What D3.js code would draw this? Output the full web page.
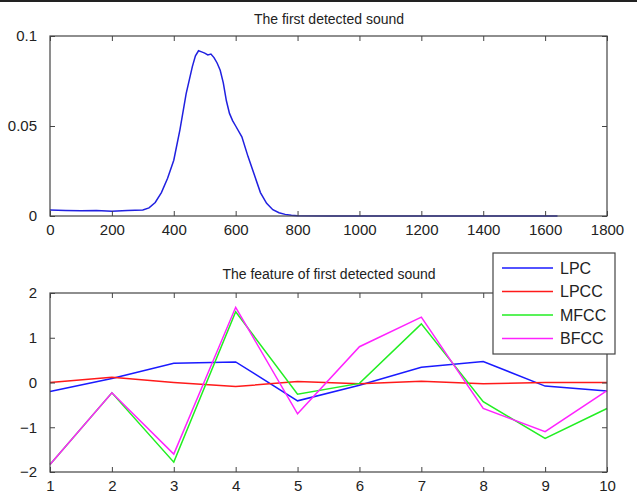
<!DOCTYPE html>
<html>
<head>
<meta charset="utf-8">
<script src="https://cdn.jsdelivr.net/npm/d3@7"></script>
<style>
  body { margin: 0; background: #fff; }
  text { font-family: "Liberation Sans", Arial, sans-serif; fill: #222; }
</style>
</head>
<body>
<svg id="chart" width="637" height="495"></svg>
<script>
// top plot: the detected sound envelope
var soundX = [0, 50, 100, 150, 200, 250, 300, 320, 340, 360, 380, 400, 420, 440, 460, 470, 480,
  490, 500, 510, 520, 530, 540, 550, 560, 570, 580, 590, 600, 620, 640, 660, 680, 700, 720,
  740, 760, 780, 800, 900, 1000, 1200, 1400, 1640];
var soundY = [0.0034, 0.0031, 0.0029, 0.0030, 0.0027, 0.0031, 0.0034, 0.0045, 0.0075, 0.013,
  0.021, 0.031, 0.048, 0.068, 0.083, 0.089, 0.0918, 0.0912, 0.0905, 0.0895, 0.0900, 0.0880,
  0.0850, 0.0810, 0.0740, 0.0640, 0.0570, 0.0530, 0.0500, 0.0440, 0.0330, 0.0230, 0.0130,
  0.0070, 0.0035, 0.0018, 0.0009, 0.0004, 0.0001, 0, 0, 0, 0, 0];
var topXTicks = [0, 200, 400, 600, 800, 1000, 1200, 1400, 1600, 1800];
var topYTicks = [0, 0.05, 0.1];

// bottom plot: features
var featIndex = [1, 2, 3, 4, 5, 6, 7, 8, 9, 10];
var lpc  = [-0.20, 0.09, 0.43, 0.46, -0.41, -0.06, 0.34, 0.47, -0.08, -0.19];
var lpcc = [0.00, 0.12, 0.00, -0.09, 0.02, -0.03, 0.03, -0.03, 0.00, 0.00];
var mfcc = [-1.83, -0.23, -1.78, 1.58, -0.26, -0.02, 1.31, -0.43, -1.25, -0.58];
var bfcc = [-1.83, -0.23, -1.60, 1.68, -0.70, 0.80, 1.46, -0.58, -1.10, -0.18];
var seriesNames = ["LPC", "LPCC", "MFCC", "BFCC"];
var seriesColors = ["#1a1aff", "#ff1a1a", "#22ee22", "#ff22ff"];
var botYTicks = [-2, -1, 0, 1, 2];

var svg = d3.select("#chart");
var axisColor = "#444";

// thin dark bar across the very top of the picture
svg.append("rect").attr("x", 0).attr("y", 0).attr("width", 637).attr("height", 2).attr("fill", "#222");

function drawFrame(g, x, y, xTicks, yTicks, xFmt, yFmt) {
  var x0 = x.range()[0], x1 = x.range()[1];
  var y0 = y.range()[0], y1 = y.range()[1];

  // ticks pointing inward on all four sides
  g.append("g").attr("transform", "translate(0," + y0 + ")")
    .call(d3.axisBottom(x).tickValues(xTicks).tickSize(-5).tickPadding(8).tickFormat(xFmt));
  g.append("g").attr("transform", "translate(0," + y1 + ")")
    .call(d3.axisTop(x).tickValues(xTicks).tickSize(-5).tickFormat(""));
  g.append("g").attr("transform", "translate(" + x0 + ",0)")
    .call(d3.axisLeft(y).tickValues(yTicks).tickSize(-5).tickPadding(13).tickFormat(yFmt));
  g.append("g").attr("transform", "translate(" + x1 + ",0)")
    .call(d3.axisRight(y).tickValues(yTicks).tickSize(-5).tickFormat(""));

  g.selectAll(".domain").remove();
  g.selectAll(".tick line").attr("stroke", axisColor);
  g.selectAll(".tick text").style("font-size", "15px").attr("fill", "#222");

  g.append("rect")
    .attr("x", x0).attr("y", y1)
    .attr("width", x1 - x0).attr("height", y0 - y1)
    .attr("fill", "none").attr("stroke", axisColor).attr("stroke-width", 1.2);
}

// ---- top plot
var xTop = d3.scaleLinear().domain([0, 1800]).range([50, 607]);
var yTop = d3.scaleLinear().domain([0, 0.1]).range([216, 36]);

var gTop = svg.append("g");
var soundPts = soundX.map(function(d, i) { return [d, soundY[i]]; });
gTop.append("path")
  .datum(soundPts)
  .attr("fill", "none")
  .attr("stroke", "#2020e0")
  .attr("stroke-width", 1.5)
  .attr("d", d3.line().x(function(d) { return xTop(d[0]); }).y(function(d) { return yTop(d[1]); }));

drawFrame(gTop, xTop, yTop, topXTicks, topYTicks, d3.format("d"), function(d) { return d === 0 ? "0" : String(d); });

gTop.append("text")
  .attr("x", 329).attr("y", 24)
  .attr("text-anchor", "middle")
  .style("font-size", "14px")
  .text("The first detected sound");

// ---- bottom plot
var xBot = d3.scaleLinear().domain([1, 10]).range([50, 607]);
var yBot = d3.scaleLinear().domain([-2, 2]).range([472, 293]);

var gBot = svg.append("g");
var allSeries = [lpc, lpcc, mfcc, bfcc];
var featLine = d3.line()
  .x(function(d, i) { return xBot(featIndex[i]); })
  .y(function(d) { return yBot(d); });

allSeries.forEach(function(s, k) {
  gBot.append("path")
    .datum(s)
    .attr("fill", "none")
    .attr("stroke", seriesColors[k])
    .attr("stroke-width", 1.5)
    .attr("d", featLine);
});

drawFrame(gBot, xBot, yBot, featIndex, botYTicks, d3.format("d"), d3.format("d"));

gBot.append("text")
  .attr("x", 329).attr("y", 279)
  .attr("text-anchor", "middle")
  .style("font-size", "14px")
  .text("The feature of first detected sound");

// legend
var legend = svg.append("g");
legend.append("rect")
  .attr("x", 493).attr("y", 253).attr("width", 122).attr("height", 101)
  .attr("fill", "#fff").attr("stroke", axisColor).attr("stroke-width", 1.2);

seriesNames.forEach(function(name, k) {
  var yy = 268 + k * 23.5;
  legend.append("line")
    .attr("x1", 502).attr("x2", 553).attr("y1", yy).attr("y2", yy)
    .attr("stroke", seriesColors[k]).attr("stroke-width", 1.5);
  legend.append("text")
    .attr("x", 560).attr("y", yy + 5.5)
    .style("font-size", "16px")
    .text(name);
});
</script>
</body>
</html>
